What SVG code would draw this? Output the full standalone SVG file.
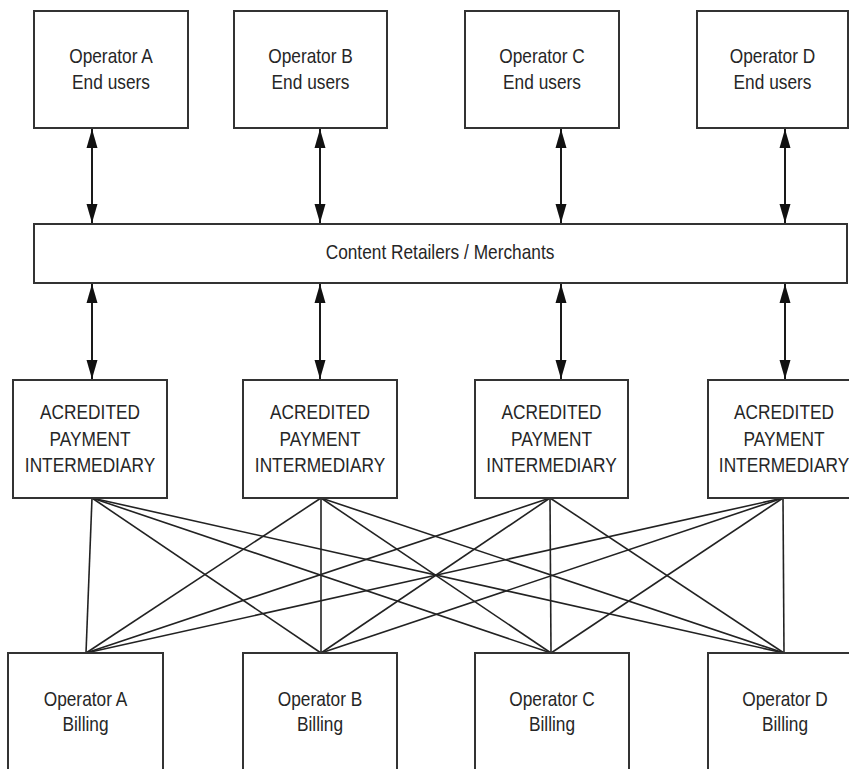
<svg xmlns="http://www.w3.org/2000/svg" width="849" height="769" viewBox="0 0 849 769">
  <defs>
    <style>
      .box { fill: #ffffff; stroke: #333333; stroke-width: 2; }
      .lbl { font-family: "Liberation Sans", Arial, sans-serif; font-size: 20px; fill: #262626; text-anchor: middle; }
      .arrow { stroke: #1a1a1a; stroke-width: 2; fill: none; marker-start: url(#head); marker-end: url(#head); }
      .mesh { stroke: #222222; stroke-width: 1.6; fill: none; }
    </style>
    <marker id="head" markerUnits="userSpaceOnUse" markerWidth="20" markerHeight="12" refX="19" refY="6" orient="auto-start-reverse">
      <path d="M0,0.5 L19,6 L0,11.5 Z" fill="#111111"/>
    </marker>
  </defs>

  <rect width="849" height="769" fill="#ffffff"/>

  <!-- connectors -->
  <g id="connectors">
    <!-- end users <-> retailers -->
    <line class="arrow" x1="92" y1="129" x2="92" y2="223"/>
    <line class="arrow" x1="320" y1="129" x2="320" y2="223"/>
    <line class="arrow" x1="561" y1="129" x2="561" y2="223"/>
    <line class="arrow" x1="785" y1="129" x2="785" y2="223"/>
    <!-- retailers <-> intermediaries -->
    <line class="arrow" x1="92" y1="284" x2="92" y2="379"/>
    <line class="arrow" x1="320" y1="284" x2="320" y2="379"/>
    <line class="arrow" x1="561" y1="284" x2="561" y2="379"/>
    <line class="arrow" x1="785" y1="284" x2="785" y2="379"/>
    <!-- every intermediary to every billing system -->
    <g class="mesh">
      <line x1="92" y1="498" x2="86" y2="653"/>
      <line x1="92" y1="498" x2="321" y2="653"/>
      <line x1="92" y1="498" x2="551" y2="653"/>
      <line x1="92" y1="498" x2="784" y2="653"/>
      <line x1="321" y1="498" x2="86" y2="653"/>
      <line x1="321" y1="498" x2="321" y2="653"/>
      <line x1="321" y1="498" x2="551" y2="653"/>
      <line x1="321" y1="498" x2="784" y2="653"/>
      <line x1="550" y1="498" x2="86" y2="653"/>
      <line x1="550" y1="498" x2="321" y2="653"/>
      <line x1="550" y1="498" x2="551" y2="653"/>
      <line x1="550" y1="498" x2="784" y2="653"/>
      <line x1="783" y1="498" x2="86" y2="653"/>
      <line x1="783" y1="498" x2="321" y2="653"/>
      <line x1="783" y1="498" x2="551" y2="653"/>
      <line x1="783" y1="498" x2="784" y2="653"/>
    </g>
  </g>

  <!-- end user groups -->
  <g id="users-a">
    <rect class="box" x="34" y="11" width="154" height="117"/>
    <g transform="translate(111 0) scale(0.865 1)"><text class="lbl" x="0" y="63">Operator A</text><text class="lbl" x="0" y="89">End users</text></g>
  </g>
  <g id="users-b">
    <rect class="box" x="234" y="11" width="153" height="117"/>
    <g transform="translate(310.5 0) scale(0.865 1)"><text class="lbl" x="0" y="63">Operator B</text><text class="lbl" x="0" y="89">End users</text></g>
  </g>
  <g id="users-c">
    <rect class="box" x="465" y="11" width="154" height="117"/>
    <g transform="translate(542 0) scale(0.865 1)"><text class="lbl" x="0" y="63">Operator C</text><text class="lbl" x="0" y="89">End users</text></g>
  </g>
  <g id="users-d">
    <rect class="box" x="697" y="11" width="151" height="117"/>
    <g transform="translate(772.5 0) scale(0.865 1)"><text class="lbl" x="0" y="63">Operator D</text><text class="lbl" x="0" y="89">End users</text></g>
  </g>

  <!-- retailers bar -->
  <g id="retailers">
    <rect class="box" x="34" y="224" width="813" height="59"/>
    <g transform="translate(440 0) scale(0.865 1)"><text class="lbl" x="0" y="259">Content Retailers / Merchants</text></g>
  </g>

  <!-- payment intermediaries -->
  <g id="api-a">
    <rect class="box" x="13" y="380" width="154" height="118"/>
    <g transform="translate(90 0) scale(0.865 1)"><text class="lbl" x="0" y="419">ACREDITED</text><text class="lbl" x="0" y="446">PAYMENT</text><text class="lbl" x="0" y="472">INTERMEDIARY</text></g>
  </g>
  <g id="api-b">
    <rect class="box" x="243" y="380" width="154" height="118"/>
    <g transform="translate(320 0) scale(0.865 1)"><text class="lbl" x="0" y="419">ACREDITED</text><text class="lbl" x="0" y="446">PAYMENT</text><text class="lbl" x="0" y="472">INTERMEDIARY</text></g>
  </g>
  <g id="api-c">
    <rect class="box" x="475" y="380" width="153" height="118"/>
    <g transform="translate(551.5 0) scale(0.865 1)"><text class="lbl" x="0" y="419">ACREDITED</text><text class="lbl" x="0" y="446">PAYMENT</text><text class="lbl" x="0" y="472">INTERMEDIARY</text></g>
  </g>
  <g id="api-d">
    <rect class="box" x="708" y="380" width="154" height="118"/>
    <g transform="translate(784 0) scale(0.865 1)"><text class="lbl" x="0" y="419">ACREDITED</text><text class="lbl" x="0" y="446">PAYMENT</text><text class="lbl" x="0" y="472">INTERMEDIARY</text></g>
  </g>

  <!-- operator billing systems -->
  <g id="billing-a">
    <rect class="box" x="8" y="653" width="155" height="130"/>
    <g transform="translate(85.5 0) scale(0.865 1)"><text class="lbl" x="0" y="706">Operator A</text><text class="lbl" x="0" y="731">Billing</text></g>
  </g>
  <g id="billing-b">
    <rect class="box" x="243" y="653" width="154" height="130"/>
    <g transform="translate(320 0) scale(0.865 1)"><text class="lbl" x="0" y="706">Operator B</text><text class="lbl" x="0" y="731">Billing</text></g>
  </g>
  <g id="billing-c">
    <rect class="box" x="475" y="653" width="154" height="130"/>
    <g transform="translate(552 0) scale(0.865 1)"><text class="lbl" x="0" y="706">Operator C</text><text class="lbl" x="0" y="731">Billing</text></g>
  </g>
  <g id="billing-d">
    <rect class="box" x="708" y="653" width="154" height="130"/>
    <g transform="translate(785 0) scale(0.865 1)"><text class="lbl" x="0" y="706">Operator D</text><text class="lbl" x="0" y="731">Billing</text></g>
  </g>
</svg>
